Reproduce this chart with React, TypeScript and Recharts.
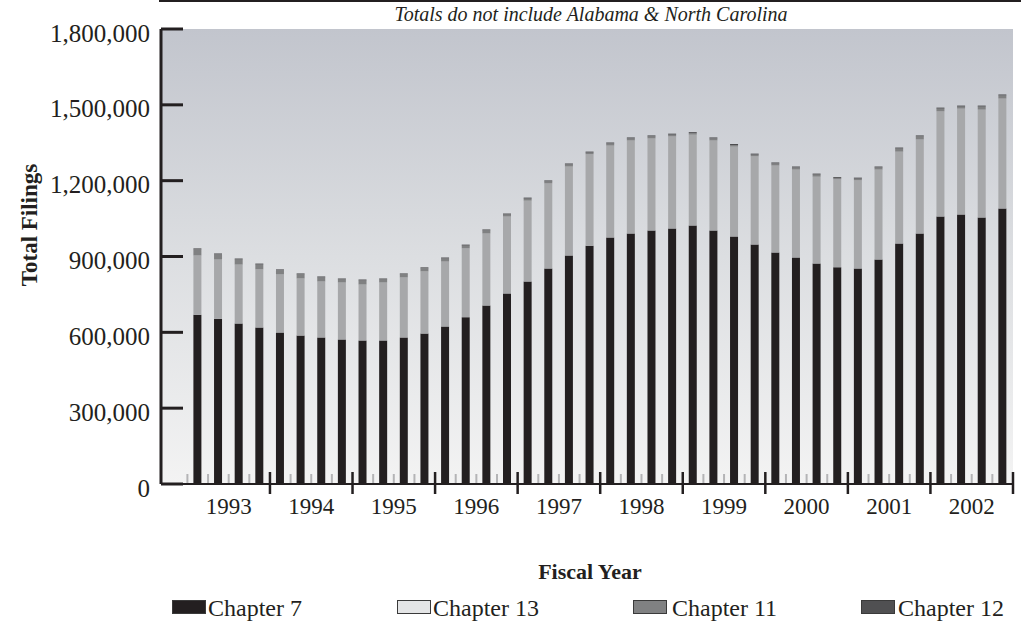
import React from 'react';
import { BarChart, Bar, XAxis, YAxis, CartesianGrid } from 'recharts';

const years = ['1993', '1994', '1995', '1996', '1997', '1998', '1999', '2000', '2001', '2002'];
const quarterNames = ['Q1', 'Q2', 'Q3', 'Q4'];

// thousands of filings (12-month totals)
const chapter7 = [670, 654, 635, 619, 599, 587, 580, 572, 568, 568, 580, 595, 623, 660, 706, 754, 801, 853, 904, 943, 975, 991, 1003, 1011, 1023, 1003, 979, 947, 916, 896, 872, 857, 853, 888, 951, 991, 1058, 1066, 1054, 1090];
const chapter13 = [234, 234, 233, 230, 230, 226, 221, 225, 221, 229, 237, 246, 257, 272, 285, 304, 320, 336, 352, 361, 364, 368, 364, 364, 359, 356, 356, 349, 344, 348, 344, 348, 348, 356, 364, 372, 416, 419, 427, 435];
const chapter11 = [24, 20, 20, 19, 16, 16, 16, 12, 16, 12, 12, 12, 12, 11, 12, 8, 8, 8, 8, 7, 8, 8, 8, 7, 6, 8, 6, 7, 8, 8, 8, 5, 7, 8, 12, 12, 11, 8, 12, 12];
const chapter12 = [4, 4, 4, 4, 4, 4, 4, 4, 4, 4, 4, 4, 4, 4, 4, 4, 4, 4, 4, 4, 4, 4, 4, 4, 4, 4, 4, 4, 4, 4, 4, 4, 4, 4, 4, 4, 4, 4, 4, 4];

const yTicks = [0, 300000, 600000, 900000, 1200000, 1500000, 1800000];

const categories: string[] = [];
years.forEach((y) => quarterNames.forEach((q) => categories.push(`${q} ${y}`)));

const data = categories.map((c, i) => ({
  name: c,
  ch7: chapter7[i] * 1000,
  ch13: chapter13[i] * 1000,
  ch11: chapter11[i] * 1000,
  ch12: chapter12[i] * 1000,
}));

const INK = '#231f20';
const FONT = '"Liberation Serif", "Times New Roman", serif';
const N = categories.length;
const PLOT_LEFT = 161;
const PLOT_RIGHT = 1013;
const PAD_LEFT = 26.4;
const STEP = (PLOT_RIGHT - PLOT_LEFT - PAD_LEFT) / N;

const XTick = (props: any) => {
  const { x, y, payload } = props;
  const i = payload.index;
  const left = x - STEP / 2;
  const right = x + STEP / 2;
  const els: any[] = [];
  if (i % 4 === 0 && i !== 0) {
    els.push(<line key="b" x1={left} x2={left} y1={y - 12} y2={y + 10} stroke={INK} strokeWidth={2.5} />);
  } else {
    els.push(<line key="g" x1={left} x2={left} y1={y - 10} y2={y - 1} stroke="#b4b4b6" strokeWidth={2} />);
  }
  if (i === N - 1) {
    els.push(<line key="r" x1={right} x2={right} y1={y - 12} y2={y + 10} stroke={INK} strokeWidth={2.5} />);
  }
  if (i % 4 === 2) {
    els.push(
      <text key="t" x={left} y={y + 30} textAnchor="middle" fontFamily={FONT} fontSize={23} fill={INK}>
        {years[Math.floor(i / 4)]}
      </text>
    );
  }
  return <g>{els}</g>;
};

const YTick = (props: any) => {
  const { x, y, payload } = props;
  return (
    <g>
      <line x1={x + 11} x2={x + 33} y1={y} y2={y} stroke={INK} strokeWidth={3} />
      <text x={x} y={y + 4} textAnchor="end" dominantBaseline="central" fontFamily={FONT} fontSize={25} fill={INK}>
        {Number(payload.value).toLocaleString('en-US')}
      </text>
    </g>
  );
};

const legendItems = [
  { label: 'Chapter 7', color: INK, sx: 172, tx: 208 },
  { label: 'Chapter 13', color: '#e4e5e6', sx: 397, tx: 433 },
  { label: 'Chapter 11', color: '#808182', sx: 633, tx: 672 },
  { label: 'Chapter 12', color: '#505052', sx: 861, tx: 898 },
];

export default function App() {
  return (
    <div style={{ position: 'absolute', left: 0, top: 0, width: 1021, height: 628, background: '#fff' }}>
      <BarChart
        width={1021}
        height={540}
        data={data}
        margin={{ top: 29, right: 8, left: 0, bottom: 0 }}
        barCategoryGap={0}
      >
        <defs>
          <linearGradient id="bgGrad" x1="0" y1="0" x2="0" y2="1">
            <stop offset="0%" stopColor="#c2c5cd" />
            <stop offset="50%" stopColor="#dcdee1" />
            <stop offset="100%" stopColor="#f3f3f3" />
          </linearGradient>
        </defs>
        <CartesianGrid horizontal={false} vertical={false} fill="url(#bgGrad)" />
        <XAxis
          dataKey="name"
          height={56}
          padding={{ left: PAD_LEFT, right: 0 }}
          interval={0}
          tickLine={false}
          tickSize={0}
          tickMargin={0}
          axisLine={{ stroke: INK, strokeWidth: 2 }}
          tick={<XTick />}
        />
        <YAxis
          width={161}
          domain={[0, 1800000]}
          ticks={yTicks}
          interval={0}
          tickLine={false}
          tickSize={0}
          tickMargin={11}
          axisLine={{ stroke: INK, strokeWidth: 3 }}
          tick={<YTick />}
        />
        <Bar dataKey="ch7" name="Chapter 7" stackId="a" fill={INK} barSize={8} isAnimationActive={false} />
        <Bar dataKey="ch13" name="Chapter 13" stackId="a" fill="#a7a8aa" barSize={8} isAnimationActive={false} />
        <Bar dataKey="ch11" name="Chapter 11" stackId="a" fill="#808182" barSize={8} isAnimationActive={false} />
        <Bar dataKey="ch12" name="Chapter 12" stackId="a" fill="#4d4d4f" barSize={8} isAnimationActive={false} />
      </BarChart>
      <svg width={1021} height={628} style={{ position: 'absolute', left: 0, top: 0, pointerEvents: 'none' }}>
        <line x1={159} x2={1021} y1={1} y2={1} stroke={INK} strokeWidth={2} />
        <text x={591} y={21} textAnchor="middle" fontFamily={FONT} fontStyle="italic" fontSize={20} fill={INK}>
          Totals do not include Alabama &amp; North Carolina
        </text>
        <text
          transform="translate(29,225) rotate(-90)"
          textAnchor="middle"
          dominantBaseline="central"
          fontFamily={FONT}
          fontWeight="bold"
          fontSize={23}
          fill={INK}
        >
          Total Filings
        </text>
        <text x={590} y={579} textAnchor="middle" fontFamily={FONT} fontWeight="bold" fontSize={22} fill={INK}>
          Fiscal Year
        </text>
        {legendItems.map((it) => (
          <g key={it.label}>
            <rect x={it.sx + 0.5} y={600.5} width={33} height={13} fill={it.color} stroke="#3a3a3a" strokeWidth={1} />
            <text x={it.tx} y={616} fontFamily={FONT} fontSize={24} fill={INK}>
              {it.label}
            </text>
          </g>
        ))}
      </svg>
    </div>
  );
}
